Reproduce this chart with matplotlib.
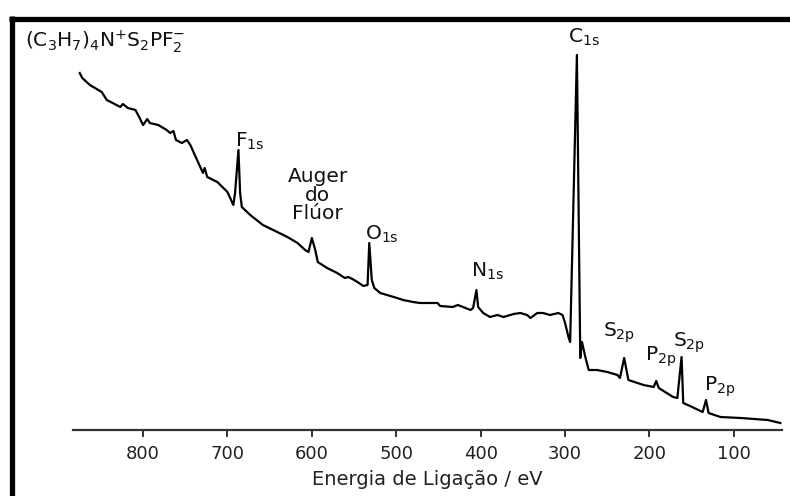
"""
Espectro XPS survey de (C3H7)4N+ S2PF2- redesenhado a partir da figura.
Intensidade em unidades arbitrarias (lidas da imagem).
"""

import matplotlib

matplotlib.use("Agg")
import matplotlib.pyplot as plt
from matplotlib.lines import Line2D

plt.rcParams["font.family"] = ["DejaVu Sans"]

# ---- dados: energia de ligacao (eV) e intensidade (u.a.) ----
energia = [
    875, 872, 863, 849, 843, 836, 827, 824, 818, 809, 804, 800, 795, 792, 782,
    772, 768, 764, 761, 754, 748, 744, 736, 729, 727, 724, 712, 700, 693, 691,
    687, 685, 683, 673, 658, 641, 629, 617, 608, 604, 600, 596, 593, 582, 570,
    561, 557, 552, 546, 539, 534, 532, 529, 526, 519, 499, 492, 480, 472, 451,
    448, 433, 427, 412, 409, 405, 403, 397, 389, 380, 373, 361, 353, 345, 341,
    333, 326, 318, 308, 303, 300, 296, 294, 286, 282, 280, 276, 272, 262, 250,
    238, 235, 230, 225, 207, 195, 192, 189, 172, 167, 162, 160, 152, 137, 133,
    130, 116, 92, 60, 45,
]
intensidade = [
    357, 352, 345, 338, 330, 327, 323, 326, 322, 320, 312, 305, 311, 307, 305,
    300, 297, 299, 290, 287, 290, 285, 270, 257, 262, 253, 248, 238, 225, 237,
    280, 237, 223, 215, 205, 198, 193, 187, 180, 178, 192, 180, 168, 162, 157,
    152, 153, 151, 148, 144, 145, 187, 150, 142, 137, 132, 130, 128, 127, 127,
    124, 123, 125, 120, 122, 140, 123, 117, 113, 115, 113, 116, 117, 115, 112,
    117, 117, 115, 117, 115, 107, 93, 88, 375, 72, 88, 73, 60, 60, 58,
    55, 52, 72, 50, 45, 43, 49, 42, 33, 32, 73, 27, 24, 18, 30,
    17, 13, 12, 10, 7,
]

# rotulos dos picos: texto, energia, intensidade (canto esquerdo / linha de base)
picos_txt = [r"F$_\mathregular{1s}$", r"O$_\mathregular{1s}$", r"C$_\mathregular{1s}$",
             r"N$_\mathregular{1s}$", r"S$_\mathregular{2p}$", r"P$_\mathregular{2p}$",
             r"S$_\mathregular{2p}$", r"P$_\mathregular{2p}$"]
picos_e = [691, 537, 296, 412, 255, 205, 172, 136]
picos_i = [283, 190, 387, 153, 93, 69, 83, 39]

ticks_e = [800, 700, 600, 500, 400, 300, 200, 100]


def main():
    fig = plt.figure(figsize=(7.9, 4.96), dpi=100)
    ax = fig.add_axes([73 / 790, 66 / 496, 709 / 790, 410 / 496])

    ax.plot(energia, intensidade, color="black", lw=1.6, solid_joinstyle="round")

    ax.set_xlim(883, 43)
    ax.set_ylim(0, 410)

    for s in ("left", "right", "top"):
        ax.spines[s].set_visible(False)
    ax.spines["bottom"].set_linewidth(1.6)
    ax.spines["bottom"].set_color("#333333")
    ax.set_yticks([])
    ax.set_xticks(ticks_e)
    ax.tick_params(axis="x", direction="out", length=5, width=1.4, color="#333333",
                   pad=6, labelsize=13, labelcolor="#222222")
    ax.set_xlabel("Energia de Ligação / eV", fontsize=14, color="#222222", labelpad=5)

    for txt, e, i in zip(picos_txt, picos_e, picos_i):
        ax.text(e, i, txt, fontsize=14.5, ha="left", va="baseline", color="#111111")

    ax.text(593, 263, "Auger\ndo\nFlúor", fontsize=14.5, ha="center", va="top",
            linespacing=0.98, color="#111111")

    fig.text(25 / 790, 1 - 47 / 496,
             r"(C$_\mathregular{3}$H$_\mathregular{7}$)$_\mathregular{4}$N$^\mathregular{+}$"
             r"S$_\mathregular{2}$PF$_\mathregular{2}^\mathregular{-}$",
             fontsize=14.5, ha="left", va="baseline", color="#111111")

    # moldura preta (so topo e lado esquerdo, como na figura original)
    fig.add_artist(Line2D([9 / 790, 1.0], [1 - 18.5 / 496] * 2, lw=3.8,
                          color="black", solid_capstyle="butt",
                          transform=fig.transFigure))
    fig.add_artist(Line2D([11.5 / 790] * 2, [0.0, 1 - 16 / 496], lw=3.8,
                          color="black", solid_capstyle="butt",
                          transform=fig.transFigure))

    fig.savefig("out.png", dpi=100)
    plt.close(fig)


if __name__ == "__main__":
    main()
